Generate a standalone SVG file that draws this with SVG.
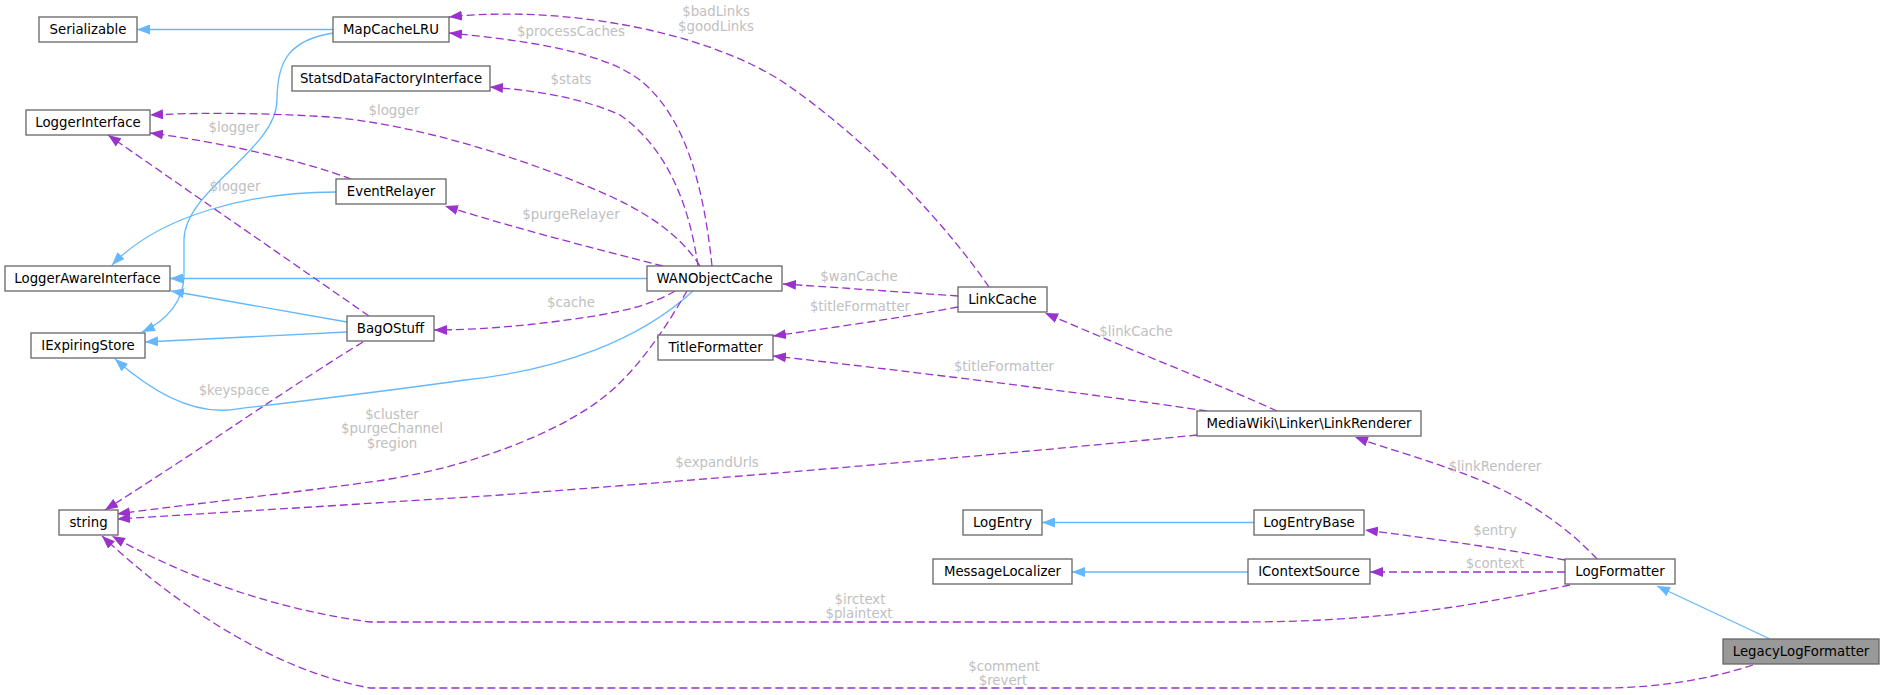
<svg xmlns="http://www.w3.org/2000/svg" width="1884" height="695" viewBox="0 0 1884 695">
<style>
.n rect{fill:#fff;stroke:#666;stroke-width:1.3}
.n text{font-family:"DejaVu Sans","Liberation Sans",sans-serif;font-size:13.3px;fill:#000;text-anchor:middle}
.inh{fill:none;stroke:#63b8ff;stroke-width:1.3;marker-end:url(#ab)}
.use{fill:none;stroke:#9a32cd;stroke-width:1.3;stroke-dasharray:8,4;marker-end:url(#ap)}
.lbl{font-family:"DejaVu Sans","Liberation Sans",sans-serif;font-size:13.3px;fill:#c0c0c0;text-anchor:middle}
</style>
<defs>
<marker id="ab" markerUnits="userSpaceOnUse" markerWidth="13" markerHeight="10" refX="13" refY="5" orient="auto"><path d="M0,0 L13,5 L0,10 z" fill="#63b8ff"/></marker>
<marker id="ap" markerUnits="userSpaceOnUse" markerWidth="13" markerHeight="10" refX="13" refY="5" orient="auto"><path d="M0,0 L13,5 L0,10 z" fill="#9a32cd"/></marker>
</defs>
<rect width="1884" height="695" fill="#fff"/>
<g id="edges">
<path class="inh" d="M333,29.5 L137,29.5"/>
<path class="inh" d="M333,33 C290,40 277,60 277,100 C277,150 184,190 184,240 L184,275 C184,300 168,320 142,332"/>
<path class="inh" d="M336,192 C250,192 160,215 112,265"/>
<path class="inh" d="M647,278.5 L170,278.5"/>
<path class="inh" d="M347,322 L171,291"/>
<path class="inh" d="M347,332 L145,342"/>
<path class="inh" d="M693,291 C640,340 560,370 465,380 C380,392 270,405 228,410 C190,413 150,390 115,359"/>
<path class="inh" d="M1254,522.5 L1042,522.5"/>
<path class="inh" d="M1248,572 L1072,572"/>
<path class="inh" d="M1770,639 L1657,586"/>

<path class="use" d="M369,316 L108,135"/>
<path class="use" d="M351,179 C300,160 220,142 150,133"/>
<path class="use" d="M700,266 C680,235 650,215 612,197 C530,160 420,125 330,117 C250,112 190,113 150,115"/>
<path class="use" d="M712,266 C705,200 690,120 640,80 C600,50 520,40 449,33"/>
<path class="use" d="M989,287 C950,230 870,140 780,80 C700,30 560,5 449,17"/>
<path class="use" d="M698,266 C690,210 670,150 620,115 C580,97 530,90 490,87"/>
<path class="use" d="M663,266 C620,255 520,230 445,206"/>
<path class="use" d="M675,291 C660,300 640,308 600,315 C540,325 480,330 434,330"/>
<path class="use" d="M687,291 C670,320 640,370 600,400 C560,430 480,465 384,480 C300,492 200,503 117,514"/>
<path class="use" d="M363,342 C300,380 200,450 105,510"/>
<path class="use" d="M958,296 C900,292 830,287 783,284"/>
<path class="use" d="M958,307 C900,318 830,328 773,336"/>
<path class="use" d="M1277,411 C1220,385 1130,350 1045,313"/>
<path class="use" d="M1207,411 C1100,395 900,370 773,356"/>
<path class="use" d="M1197,435 C1000,455 700,480 500,495 C300,508 180,515 117,519"/>
<path class="use" d="M1597,559 C1570,530 1530,500 1480,480 C1430,460 1390,450 1355,437"/>
<path class="use" d="M1565,560 C1500,548 1420,537 1365,530"/>
<path class="use" d="M1565,572 L1370,572"/>
<path class="use" d="M1570,585 C1480,605 1380,622 1240,622 L370,622 C280,610 190,580 112,536"/>
<path class="use" d="M1753,665 C1700,682 1650,688 1600,688 L370,688 C270,670 170,600 102,536"/>

<text class="lbl" x="235" y="191">$logger</text>
<text class="lbl" x="234" y="132">$logger</text>
<text class="lbl" x="394" y="115">$logger</text>
<text class="lbl" x="571" y="36">$processCaches</text>
<text class="lbl" x="716" y="16">$badLinks</text>
<text class="lbl" x="716" y="31">$goodLinks</text>
<text class="lbl" x="571" y="84">$stats</text>
<text class="lbl" x="571" y="219">$purgeRelayer</text>
<text class="lbl" x="571" y="307">$cache</text>
<text class="lbl" x="392" y="419">$cluster</text>
<text class="lbl" x="392" y="433">$purgeChannel</text>
<text class="lbl" x="392" y="448">$region</text>
<text class="lbl" x="234" y="395">$keyspace</text>
<text class="lbl" x="859" y="281">$wanCache</text>
<text class="lbl" x="860" y="311">$titleFormatter</text>
<text class="lbl" x="1136" y="336">$linkCache</text>
<text class="lbl" x="1004" y="371">$titleFormatter</text>
<text class="lbl" x="717" y="467">$expandUrls</text>
<text class="lbl" x="1495" y="471">$linkRenderer</text>
<text class="lbl" x="1495" y="535">$entry</text>
<text class="lbl" x="1495" y="568">$context</text>
<text class="lbl" x="860" y="604">$irctext</text>
<text class="lbl" x="859" y="618">$plaintext</text>
<text class="lbl" x="1004" y="671">$comment</text>
<text class="lbl" x="1003" y="685">$revert</text>
</g>
<g id="Serializable" class="n"><rect x="39" y="17" width="98" height="25"/><text x="88" y="34">Serializable</text></g>
<g id="MapCacheLRU" class="n"><rect x="333" y="17" width="116" height="25"/><text x="391" y="34">MapCacheLRU</text></g>
<g id="StatsdDataFactoryInterface" class="n"><rect x="292" y="66" width="198" height="25"/><text x="391" y="83">StatsdDataFactoryInterface</text></g>
<g id="LoggerInterface" class="n"><rect x="26" y="110" width="124" height="25"/><text x="88" y="127">LoggerInterface</text></g>
<g id="EventRelayer" class="n"><rect x="336" y="179" width="110" height="25"/><text x="391" y="196">EventRelayer</text></g>
<g id="LoggerAwareInterface" class="n"><rect x="5" y="266" width="165" height="25"/><text x="87.5" y="283">LoggerAwareInterface</text></g>
<g id="WANObjectCache" class="n"><rect x="647" y="266" width="135" height="25"/><text x="714.5" y="283">WANObjectCache</text></g>
<g id="LinkCache" class="n"><rect x="958" y="287" width="89" height="25"/><text x="1002.5" y="304">LinkCache</text></g>
<g id="BagOStuff" class="n"><rect x="347" y="316" width="87" height="25"/><text x="390.5" y="333">BagOStuff</text></g>
<g id="IExpiringStore" class="n"><rect x="31" y="333" width="114" height="25"/><text x="88" y="350">IExpiringStore</text></g>
<g id="TitleFormatter" class="n"><rect x="658" y="335" width="115" height="25"/><text x="715.5" y="352">TitleFormatter</text></g>
<g id="LinkRenderer" class="n"><rect x="1197" y="411" width="224" height="25"/><text x="1309" y="428">MediaWiki\Linker\LinkRenderer</text></g>
<g id="string" class="n"><rect x="59" y="510" width="59" height="25"/><text x="88.5" y="527">string</text></g>
<g id="LogEntry" class="n"><rect x="963" y="510" width="79" height="25"/><text x="1002.5" y="527">LogEntry</text></g>
<g id="LogEntryBase" class="n"><rect x="1254" y="510" width="110" height="25"/><text x="1309" y="527">LogEntryBase</text></g>
<g id="MessageLocalizer" class="n"><rect x="933" y="559" width="139" height="25"/><text x="1002.5" y="576">MessageLocalizer</text></g>
<g id="IContextSource" class="n"><rect x="1248" y="559" width="122" height="25"/><text x="1309" y="576">IContextSource</text></g>
<g id="LogFormatter" class="n"><rect x="1565" y="559" width="110" height="25"/><text x="1620" y="576">LogFormatter</text></g>
<g id="LegacyLogFormatter" class="n"><rect x="1723" y="639" width="156" height="25" style="fill:#999"/><text x="1801" y="656">LegacyLogFormatter</text></g>
</svg>
